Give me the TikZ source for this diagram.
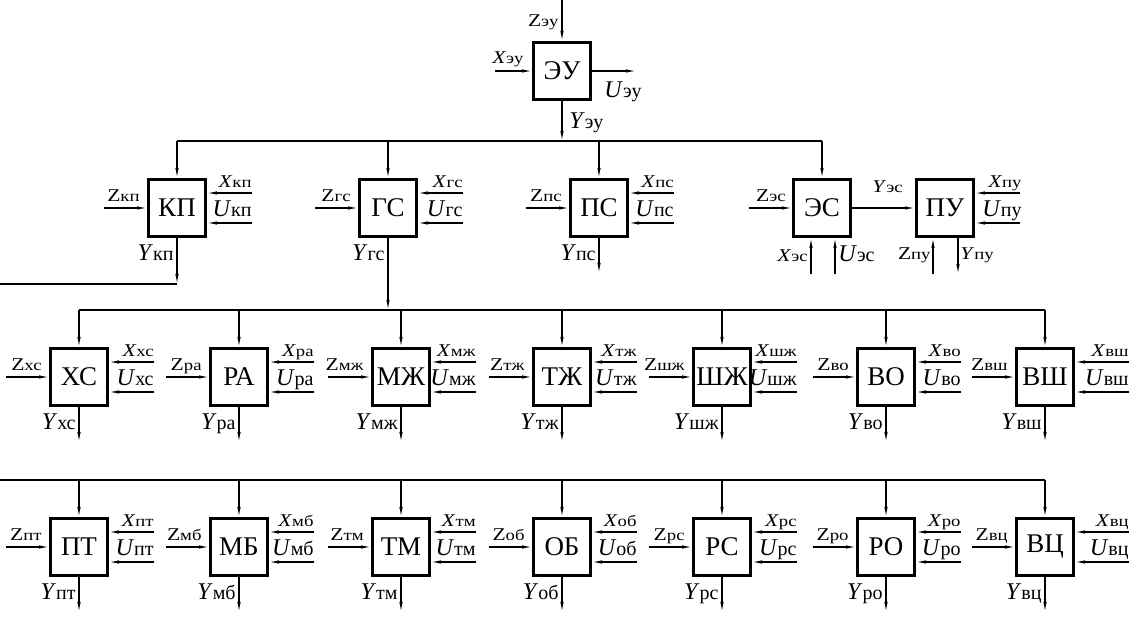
\documentclass[tikz,border=0pt]{standalone}
\usepackage{fontspec}
\setmainfont{Liberation Serif}
\newfontfamily\widefont[FakeStretch=1.2]{Liberation Serif}
\usetikzlibrary{arrows.meta,calc}

% signal labels: letter + small upright index on the same baseline
\newcommand\lbs[2]{{\widefont\fontsize{9}{9}\selectfont#1\fontsize{7.8}{8}\selectfont#2}}
\newcommand\lbb[2]{{\fontsize{12}{12}\selectfont#1\fontsize{10}{10}\selectfont#2}}

\tikzset{
  unit/.style={draw, line width=1.5pt, minimum size=28.5pt, inner sep=0pt,
    font=\fontsize{13.5}{13.5}\selectfont},
  wire/.style={line width=.55pt},
  arrow/.style={wire, -{Latex[length=5pt,width=1.7pt]}},
  sig/.style={inner sep=0pt, anchor=base east},
  sigr/.style={inner sep=0pt, anchor=base west}
}

% standard block: Z from the left, X and U from the right, Y down
\def\xreach{75}
\newcommand\unitblock[6][65]{%
  \node[unit] (#2) at (#3,#4) {#5};
  \coordinate (#2-z) at ($(#2)+(-73,0)$);
  \coordinate (#2-x) at ($(#2)+(\xreach,-15)$);
  \coordinate (#2-u) at ($(#2)+(\xreach,15)$);
  \coordinate (#2-y) at ($(#2)+(0,#1)$);
  \draw[arrow] (#2-z) -- (#2);
  \draw[arrow] (#2-x) -- (#2-x -| #2.east);
  \draw[arrow] (#2-u) -- (#2-u -| #2.east);
  \draw[arrow] (#2) -- (#2-y);
  \node[sig] (#2-zl) at ($(#2)+(-37,-6)$) {\lbs{Z}{#6}};
  \node[sig] (#2-xl) at ($(#2-x)+(0,-5)$) {\lbs{\textit{X}}{#6}};
  \node[sig] (#2-ul) at ($(#2-u)+(0,-6)$) {\lbb{\textit{U}}{#6}};
  \node[sig] (#2-yl) at ($(#2)+(-3,53)$) {\lbb{\textit{Y}}{#6}};
}

\begin{document}
\begin{tikzpicture}[x=.5pt,y=-.5pt]
  \useasboundingbox (0,0) rectangle (1136,619);

  \coordinate (bus2) at (0,141);
  \coordinate (bus3) at (0,310);
  \coordinate (bus4) at (0,480);
  \coordinate (loop) at (0,284);

  % top unit
  \node[unit] (eu) at (562,71) {ЭУ};
  \coordinate (eu-z) at (562,0);
  \coordinate (eu-x) at (495,71);
  \coordinate (eu-u) at (636,71);
  \draw[arrow] (eu-z) -- (eu);
  \draw[arrow] (eu-x) -- (eu);
  \draw[arrow] (eu) -- (eu-u);
  \draw[arrow] (eu) -- (eu |- bus2);
  \node[sig] (eu-zl) at (559,27) {\lbs{Z}{эу}};
  \node[sig] (eu-xl) at (524,64) {\lbs{\textit{X}}{эу}};
  \node[sigr] (eu-ul) at (604,98) {\lbb{\textit{U}}{эу}};
  \node[sigr] (eu-yl) at (569,129) {\lbb{\textit{Y}}{эу}};

  % second level
  \unitblock[76]{kp}{177}{208}{КП}{кп}
  \unitblock[102]{gs}{388}{208}{ГС}{гс}
  \unitblock{ps}{599}{208}{ПС}{пс}

  \node[unit] (es) at (822,208) {ЭС};
  \node[unit] (pu) at (945,208) {ПУ};
  \coordinate (es-z) at (749,208);
  \coordinate (es-x) at (811,274);
  \coordinate (es-u) at (835,274);
  \coordinate (pu-z) at (933,274);
  \coordinate (pu-y) at (958,274);
  \coordinate (pu-x) at (1020,193);
  \coordinate (pu-u) at (1020,223);
  \draw[arrow] (es-z) -- (es);
  \draw[arrow] (es) -- (pu);
  \draw[arrow] (es-x) -- (es-x |- es.south);
  \draw[arrow] (es-u) -- (es-u |- es.south);
  \draw[arrow] (pu-z) -- (pu-z |- pu.south);
  \draw[arrow] (pu-y |- pu.south) -- (pu-y);
  \draw[arrow] (pu-x) -- (pu-x -| pu.east);
  \draw[arrow] (pu-u) -- (pu-u -| pu.east);
  \node[sig] (es-zl) at (786,202) {\lbs{Z}{эс}};
  \node[sig] (es-yl) at (903,193) {\lbs{\textit{Y}}{эс}};
  \node[sig] (es-xl) at (808,262) {\lbs{\textit{X}}{эс}};
  \node[sigr] (es-ul) at (838,262) {\lbb{\textit{U}}{эс}};
  \node[sig] (pu-zl) at (931,260) {\lbs{Z}{пу}};
  \node[sigr] (pu-yl) at (960,260) {\lbs{\textit{Y}}{пу}};
  \node[sig] (pu-xl) at (1022,188) {\lbs{\textit{X}}{пу}};
  \node[sig] (pu-ul) at (1022,217) {\lbb{\textit{U}}{пу}};

  \draw[wire] (kp |- bus2) -- (es |- bus2);
  \foreach \u in {kp,gs,ps,es}
    \draw[arrow] (\u |- bus2) -- (\u);
  \draw[wire] (kp-y) -- (loop);

  % third level
  \unitblock{xs}{79}{377}{ХС}{хс}
  \unitblock{ra}{239}{377}{РА}{ра}
  \unitblock{mzh}{401}{377}{МЖ}{мж}
  \unitblock{tzh}{562}{377}{ТЖ}{тж}
  \unitblock{shzh}{722}{377}{ШЖ}{шж}
  \unitblock{vo}{886}{377}{ВО}{во}
  \def\xreach{84}
  \unitblock{vsh}{1045}{377}{ВШ}{вш}
  \def\xreach{75}

  \draw[wire] (xs |- bus3) -- (vsh |- bus3);
  \foreach \u in {xs,ra,mzh,tzh,shzh,vo,vsh}
    \draw[arrow] (\u |- bus3) -- (\u);

  % fourth level
  \unitblock{pt}{79}{547}{ПТ}{пт}
  \unitblock{mb}{239}{547}{МБ}{мб}
  \unitblock{tm}{401}{547}{ТМ}{тм}
  \unitblock{ob}{562}{547}{ОБ}{об}
  \unitblock{rs}{722}{547}{РС}{рс}
  \unitblock{ro}{886}{547}{РО}{ро}
  \def\xreach{84}
  \unitblock{vc}{1045}{547}{ВЦ}{вц}
  \def\xreach{75}

  \draw[wire] (bus4) -- (vc |- bus4);
  \foreach \u in {pt,mb,tm,ob,rs,ro,vc}
    \draw[arrow] (\u |- bus4) -- (\u);
\end{tikzpicture}
\end{document}
